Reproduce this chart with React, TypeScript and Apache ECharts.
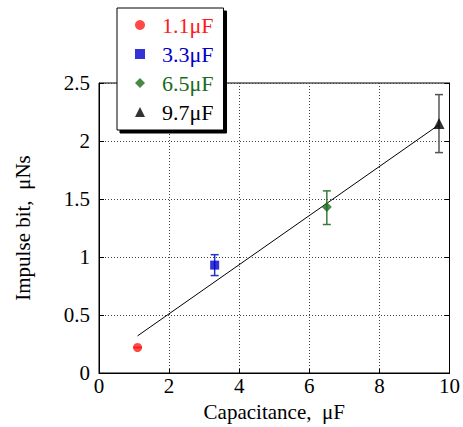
import React, { useEffect, useRef } from "react";
import * as echarts from "echarts";

const seriesNames = ["1.1μF", "3.3μF", "6.5μF", "9.7μF"];
const capacitance = [1.1, 3.3, 6.5, 9.7];
const impulse = [0.22, 0.93, 1.43, 2.15];
const errLow = [0.22, 0.84, 1.28, 1.9];
const errHigh = [0.22, 1.02, 1.57, 2.4];
const colors = ["#ff1a1a", "#0000cc", "#1a6b1a", "#000000"];
const errColors = ["#ff1a1a", "#2233cc", "#3a7a3a", "#555555"];
const symbols = ["circle", "rect", "diamond", "triangle"];
const symbolSizes = [9, 9, 10, 11];
const fitX = [1.1, 9.7];
const fitY = [0.32, 2.14];
const xTicks = [0, 2, 4, 6, 8, 10];
const yTicks = [0, 0.5, 1, 1.5, 2, 2.5];

const FONT = "'Liberation Serif', 'Times New Roman', serif";

export default function App() {
  const ref = useRef<HTMLDivElement>(null);
  useEffect(() => {
    if (!ref.current) return;
    const chart = echarts.init(ref.current, undefined, { renderer: "svg" });
    const pointSeries = seriesNames.map((name, i) => ({
      name,
      type: "scatter",
      data: [[capacitance[i], impulse[i]]],
      symbol: symbols[i],
      symbolSize: symbolSizes[i],
      itemStyle: { color: colors[i] },
      z: 5,
    }));
    const errSeries = {
      type: "custom",
      name: "err",
      data: capacitance.map((c, i) => [c, errLow[i], errHigh[i], i]),
      renderItem: (params: any, api: any) => {
        const x = api.value(0);
        const lo = api.coord([x, api.value(1)]);
        const hi = api.coord([x, api.value(2)]);
        const idx = api.value(3);
        const color = errColors[idx];
        const w = 4;
        const style = { stroke: color, lineWidth: 1.5 };
        return {
          type: "group",
          children: [
            { type: "line", shape: { x1: lo[0], y1: lo[1], x2: hi[0], y2: hi[1] }, style },
            { type: "line", shape: { x1: lo[0] - w, y1: lo[1], x2: lo[0] + w, y2: lo[1] }, style },
            { type: "line", shape: { x1: hi[0] - w, y1: hi[1], x2: hi[0] + w, y2: hi[1] }, style },
          ],
        };
      },
      z: 4,
    };
    const fitSeries = {
      type: "line",
      name: "fit",
      data: fitX.map((x, i) => [x, fitY[i]]),
      showSymbol: false,
      symbol: "none",
      lineStyle: { color: "#000", width: 1 },
      z: 3,
    };
    chart.setOption({
      animation: false,
      textStyle: { fontFamily: FONT },
      grid: {
        left: 99,
        right: 10,
        top: 83,
        bottom: 54,
        show: true,
        borderColor: "#000",
        borderWidth: 1,
        backgroundColor: "transparent",
      },
      legend: {
        orient: "vertical",
        left: 117,
        top: 8,
        padding: [6, 10, 7, 18],
        itemWidth: 10,
        itemHeight: 10,
        itemGap: 7,
        backgroundColor: "#fff",
        borderColor: "#000",
        borderWidth: 1,
        shadowColor: "#000",
        shadowOffsetX: 3,
        shadowOffsetY: 3,
        shadowBlur: 0,
        z: 20,
        data: seriesNames.map((n, i) => ({
          name: n,
          icon: symbols[i],
          textStyle: {
            color: colors[i],
            fontSize: 22,
            fontFamily: FONT,
            padding: [0, 0, 0, 12],
          },
        })),
      },
      xAxis: [
        {
          type: "value",
          min: xTicks[0],
          max: xTicks[xTicks.length - 1],
          interval: 2,
          name: "Capacitance,  μF",
          nameLocation: "middle",
          nameGap: 28,
          nameTextStyle: { fontSize: 21, color: "#000", fontFamily: FONT },
          axisLine: { show: true, lineStyle: { color: "#000" } },
          axisTick: { show: true, inside: true, length: 4, lineStyle: { color: "#000" } },
          axisLabel: { fontSize: 21, color: "#000", margin: 2, fontFamily: FONT },
          splitLine: { show: true, lineStyle: { color: "#444", type: [1, 2], width: 1 } },
        },
      ],
      yAxis: [
        {
          type: "value",
          min: yTicks[0],
          max: yTicks[yTicks.length - 1],
          interval: 0.5,
          name: "Impulse bit,  μNs",
          nameLocation: "middle",
          nameGap: 66,
          nameTextStyle: { fontSize: 21, color: "#000", fontFamily: FONT },
          axisLine: { show: true, lineStyle: { color: "#000" } },
          axisTick: { show: true, inside: true, length: 5, lineStyle: { color: "#000" } },
          axisLabel: { fontSize: 21, color: "#000", margin: 9, fontFamily: FONT },
          splitLine: { show: true, lineStyle: { color: "#444", type: [1, 2], width: 1 } },
        },
        {
          type: "value",
          position: "right",
          min: yTicks[0],
          max: yTicks[yTicks.length - 1],
          interval: 0.5,
          axisLine: { show: true, lineStyle: { color: "#000" } },
          axisTick: { show: true, inside: true, length: 5, lineStyle: { color: "#000" } },
          axisLabel: { show: false },
          splitLine: { show: false },
        },
      ],
      series: [fitSeries, errSeries, ...pointSeries],
    });
    return () => chart.dispose();
  }, []);
  return (
    <div
      ref={ref}
      style={{ position: "absolute", left: 0, top: 0, width: 463, height: 427 }}
    />
  );
}
